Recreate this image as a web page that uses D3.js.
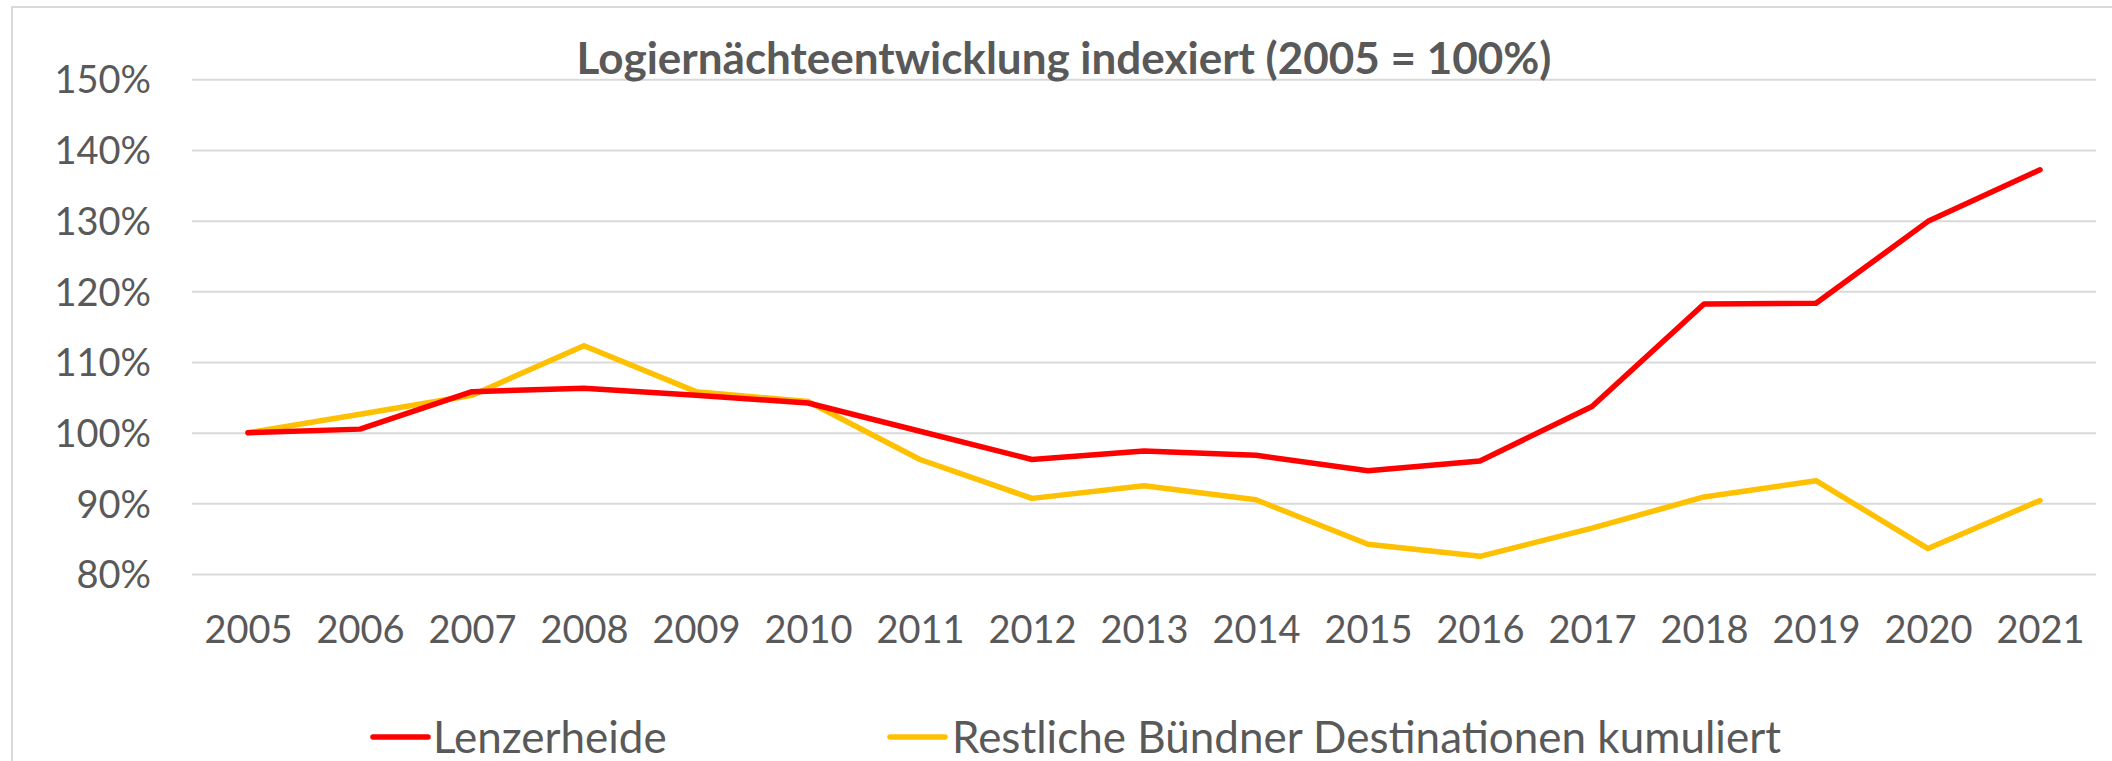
<!DOCTYPE html>
<html>
<head>
<meta charset="utf-8">
<script src="https://cdn.jsdelivr.net/npm/d3@7"></script>
<style>
  html, body { margin: 0; padding: 0; background: #fff; }
  svg { display: block; font-family: Lato, 'Open Sans', sans-serif; }
  .axis path, .axis line { display: none; }
  .axis text { fill: #595959; font-size: 38px; font-family: Lato, 'Open Sans', sans-serif; }
  .grid line { stroke: #d9d9d9; stroke-width: 2; }
  .grid path { display: none; }
</style>
</head>
<body>
<svg id="chart" width="2112" height="761"></svg>
<script>
const years = ['2005', '2006', '2007', '2008', '2009', '2010', '2011', '2012', '2013',
  '2014', '2015', '2016', '2017', '2018', '2019', '2020', '2021']

const lenzerheide = [1.000, 1.005, 1.058, 1.063, 1.053, 1.042, 1.002, 0.962, 0.974,
  0.968, 0.946, 0.960, 1.037, 1.182, 1.183, 1.299, 1.372]

const restliche = [1.000, 1.026, 1.053, 1.123, 1.058, 1.044, 0.962, 0.907, 0.925,
  0.905, 0.842, 0.825, 0.865, 0.909, 0.932, 0.836, 0.904]

const yTicks = [0.8, 0.9, 1.0, 1.1, 1.2, 1.3, 1.4, 1.5]

const seriesNames = ['Lenzerheide', 'Restliche Bündner Destinationen kumuliert']
const seriesColors = ['#ff0000', '#ffc000']

const svg = d3.select('#chart')

// outer frame
svg.append('rect')
  .attr('x', 12).attr('y', 7)
  .attr('width', 2120).attr('height', 800)
  .attr('fill', 'none')
  .attr('stroke', '#d9d9d9')
  .attr('stroke-width', 2)

const plotLeft = 192
const plotRight = 2096
const plotTop = 79.3
const plotBottom = 574

const x = d3.scalePoint().domain(years).range([plotLeft, plotRight]).padding(0.5)
const y = d3.scaleLinear().domain([0.8, 1.5]).range([plotBottom, plotTop])

// gridlines
svg.append('g')
  .attr('class', 'grid')
  .attr('transform', 'translate(' + plotLeft + ',0)')
  .call(d3.axisLeft(y).tickValues(yTicks).tickSize(-(plotRight - plotLeft)).tickFormat(''))

// y axis labels
svg.append('g')
  .attr('class', 'axis y')
  .attr('transform', 'translate(' + plotLeft + ',0)')
  .call(d3.axisLeft(y).tickValues(yTicks).tickSize(0).tickPadding(41).tickFormat(d3.format('.0%')))
  .selectAll('text')
  .attr('dy', '0.36em')

// x axis labels
svg.append('g')
  .attr('class', 'axis x')
  .attr('transform', 'translate(0,' + plotBottom + ')')
  .call(d3.axisBottom(x).tickSize(0).tickPadding(0))
  .selectAll('text')
  .attr('y', 69)
  .attr('dy', 0)

const line = d3.line()
  .x((d, i) => x(years[i]))
  .y(d => y(d))

const seriesData = [lenzerheide, restliche]

// draw the yellow one first, red on top where they cross
svg.selectAll('.series')
  .data([1, 0])
  .join('path')
  .attr('class', 'series')
  .attr('d', i => line(seriesData[i]))
  .attr('fill', 'none')
  .attr('stroke', i => seriesColors[i])
  .attr('stroke-width', 5.5)
  .attr('stroke-linejoin', 'round')
  .attr('stroke-linecap', 'round')

// title
svg.append('text')
  .attr('x', 1064)
  .attr('y', 74)
  .attr('text-anchor', 'middle')
  .attr('fill', '#595959')
  .attr('font-size', 44)
  .attr('font-weight', 'bold')
  .text('Logiernächteentwicklung indexiert (2005 = 100%)')

// legend
const legendX = [373, 890]
const legend = svg.selectAll('.legend')
  .data(seriesNames)
  .join('g')
  .attr('class', 'legend')
  .attr('transform', (d, i) => 'translate(' + legendX[i] + ',737)')

legend.append('line')
  .attr('x1', 0).attr('x2', 55)
  .attr('stroke', (d, i) => seriesColors[i])
  .attr('stroke-width', 5.5)
  .attr('stroke-linecap', 'round')

legend.append('text')
  .attr('x', (d, i) => i === 0 ? 60 : 62)
  .attr('y', 16)
  .attr('fill', '#595959')
  .attr('font-size', 44)
  .text(d => d)
</script>
</body>
</html>
